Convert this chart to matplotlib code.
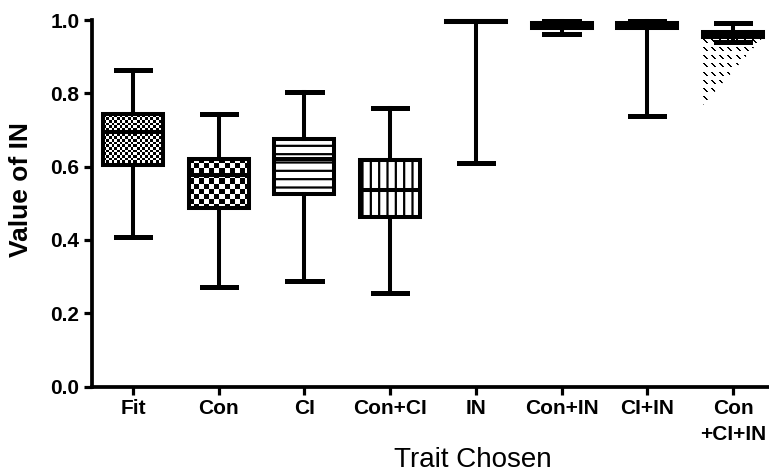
import matplotlib as mpl
mpl.use('Agg')
import matplotlib.pyplot as plt
from matplotlib.patches import Polygon
import numpy as np

plt.rcParams['font.family'] = ['Liberation Sans', 'DejaVu Sans']
plt.rcParams['hatch.linewidth'] = 1.6

traits = ['Fit', 'Con', 'CI', 'Con+CI', 'IN', 'Con+IN', 'CI+IN', 'Con\n+CI+IN']
whisker_lo = [0.408, 0.272, 0.289, 0.255, 0.610, 0.962, 0.738, 0.941]
q1 = [0.605, 0.486, 0.525, 0.463, 0.994, 0.977, 0.977, 0.953]
medians = [0.695, 0.577, 0.620, 0.536, 0.996, 0.985, 0.985, 0.960]
q3 = [0.744, 0.620, 0.674, 0.618, 0.997, 0.993, 0.993, 0.968]
whisker_hi = [0.864, 0.743, 0.803, 0.761, 0.998, 0.998, 0.998, 0.991]
spill_bottom = 0.768  # the dash fill of the last box runs out below it

fills = ['checker_fine', 'checker', '--', '||', None, None, None, 'dashes']

W, H = 769, 476
fig = plt.figure(figsize=(W / 100, H / 100), dpi=100)
ax = fig.add_axes([92 / W, (H - 386.5) / H, 1 - 92 / W, (386.5 - 20) / H])
ax.set_xlim(-0.478, 7.42)
ax.set_ylim(0, 1)
ax.set_autoscale_on(False)

stats = []
for t, lo, a, m, b, hi in zip(traits, whisker_lo, q1, medians, q3, whisker_hi):
    stats.append(dict(label=t, whislo=lo, q1=a, med=m, q3=b, whishi=hi, fliers=[]))

lw = 2.9
bp = ax.bxp(stats, positions=range(len(traits)), widths=0.7, capwidths=0.4,
            patch_artist=True, manage_ticks=False,
            boxprops=dict(facecolor='none', edgecolor='black', linewidth=lw, zorder=3),
            whiskerprops=dict(color='black', linewidth=lw, zorder=3),
            capprops=dict(color='black', linewidth=3.6, zorder=3),
            medianprops=dict(color='black', linewidth=lw, zorder=4))
for key in ['boxes', 'whiskers', 'caps', 'medians']:
    for art in bp[key]:
        art.set_clip_on(False)


def pixel_box(x0, x1, y0, y1):
    (px0, py0), (px1, py1) = ax.transData.transform([(x0, y0), (x1, y1)])
    return max(int(round(px1 - px0)), 1), max(int(round(py1 - py0)), 1)


def checker(box, cell):
    v = box.get_path().vertices
    x0, x1, y0, y1 = v[:, 0].min(), v[:, 0].max(), v[:, 1].min(), v[:, 1].max()
    nx, ny = pixel_box(x0, x1, y0, y1)
    r, c = np.mgrid[0:ny, 0:nx]
    board = ((r // cell + c // cell) % 2).astype(float)
    im = ax.imshow(board, cmap='gray', vmin=0, vmax=1, extent=(x0, x1, y0, y1),
                   aspect='auto', interpolation='nearest', zorder=2.5)
    im.set_clip_path(box)


def dashes(i, box):
    v = box.get_path().vertices
    x0, x1 = v[:, 0].min(), v[:, 0].max()
    y1 = v[:, 1].max()
    poly = Polygon([(x0, y1), (x1, y1), (x1, q1[i]), (x0, spill_bottom)],
                   closed=True, transform=ax.transData)
    nx, ny = pixel_box(x0, x1, spill_bottom, y1)
    r, c = np.mgrid[0:ny, 0:nx]
    tr, tc = r % 8, c % 8
    on = (tr < 4) & ((tc - tr) >= 0) & ((tc - tr) <= 1)
    rgba = np.zeros((ny, nx, 4))
    rgba[..., 3] = on
    im = ax.imshow(rgba, extent=(x0, x1, spill_bottom, y1), aspect='auto',
                   interpolation='nearest', zorder=2.5)
    im.set_clip_path(poly)
    im.set_clip_on(True)


for i, (box, f) in enumerate(zip(bp['boxes'], fills)):
    if f == 'checker_fine':
        checker(box, 2.7)
    elif f == 'checker':
        checker(box, 5)
    elif f == 'dashes':
        dashes(i, box)
    elif f is not None:
        box.set_hatch(f)

ax.set_xticks(range(len(traits)))
ax.set_xticklabels(traits, fontweight='bold', linespacing=1.45)
ax.set_yticks(np.arange(0, 1.01, 0.2))
ax.set_yticklabels(['%.1f' % v for v in np.arange(0, 1.01, 0.2)], fontweight='bold')
ax.tick_params(axis='both', direction='out', length=6, width=2.3, labelsize=15, pad=3)

for s in ['top', 'right']:
    ax.spines[s].set_visible(False)
for s in ['left', 'bottom']:
    ax.spines[s].set_linewidth(2.7)

ax.set_xlabel('Trait Chosen', fontsize=20)
ax.xaxis.set_label_coords((473 - 92) / (W - 92), (386.5 - 460) / 366.5)
ax.xaxis.label.set_va('center')
ax.set_ylabel('Value of IN', fontsize=19, fontweight='bold')
ax.yaxis.set_label_coords((21 - 92) / (W - 92), (386.5 - 190) / 366.5)
ax.yaxis.label.set_va('center')

fig.savefig('out.png', dpi=100)
